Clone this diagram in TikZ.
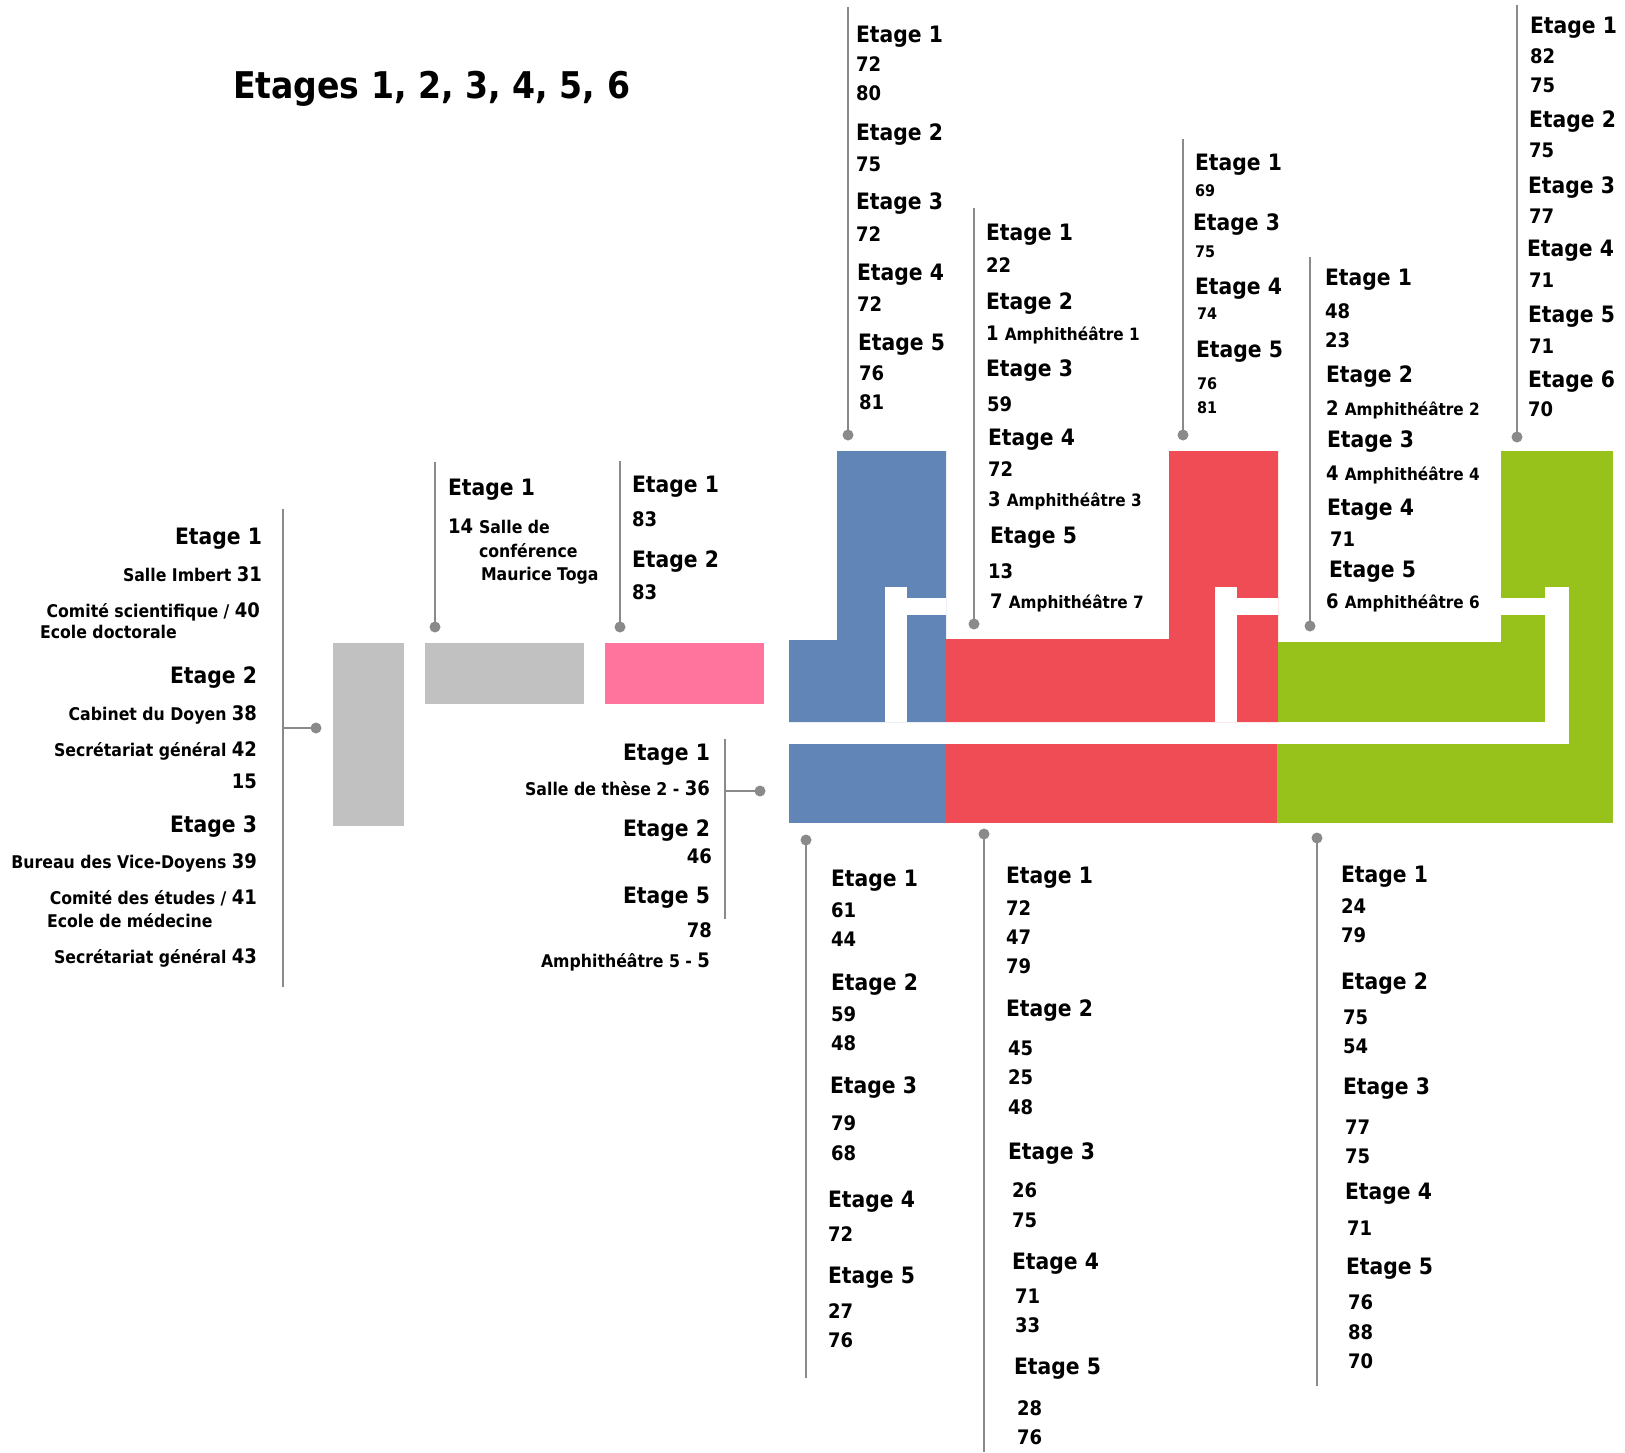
\documentclass[tikz,border=0pt]{standalone}
\usepackage{fontspec}
\setmainfont{DejaVu Sans}[FakeStretch=0.9]
\definecolor{cblue}{HTML}{6285B8}
\definecolor{cred}{HTML}{F04C56}
\definecolor{cgreen}{HTML}{97C11B}
\definecolor{cgray}{HTML}{C1C1C1}
\definecolor{cpink}{HTML}{FF749C}
\definecolor{lgray}{HTML}{8A8A8A}
\newcommand\nb[1]{{\fontsize{20}{24}\selectfont #1}}
\newcommand\amph[1]{{\fontsize{17}{20}\selectfont #1}}
\begin{document}
\begin{tikzpicture}[x=1pt,y=-1pt,
  t/.style={inner sep=0pt, outer sep=0pt, text=black},
  et/.style={t, font=\bfseries\fontsize{22.6}{26}\selectfont},
  nm/.style={t, font=\bfseries\fontsize{20}{24}\selectfont},
  sn/.style={t, font=\bfseries\fontsize{16}{19}\selectfont},
  rm/.style={t, font=\bfseries\fontsize{17.5}{21}\selectfont},
  L/.style={anchor=base west}, R/.style={anchor=base east},
  conn/.style={draw=lgray, line width=2.5pt},
  dot/.style={circle, fill=lgray, inner sep=0pt, minimum size=11pt}]
\useasboundingbox (0,0) rectangle (1625,1452);
% ---------------- shapes ----------------
\fill[cgray] (333,643) rectangle (404,826);
\fill[cgray] (425,643) rectangle (584,704);
\fill[cpink] (605,643) rectangle (764,704);
% blue
\fill[cblue] (789,640) -- (837,640) -- (837,451) -- (946,451) -- (946,722) -- (789,722) -- cycle;
\fill[cblue] (789,744) rectangle (946,823);
% red
\fill[cred] (946,639) -- (1169,639) -- (1169,451) -- (1278,451) -- (1278,722) -- (946,722) -- cycle;
\fill[cred] (946,744) rectangle (1277,823);
% green
\fill[cgreen] (1278,642) rectangle (1545,722);
\fill[cgreen] (1501,451) rectangle (1613,823);
\fill[cgreen] (1277,744) rectangle (1613,823);
% white pipes
\fill[white] (885,587) rectangle (907,722);
\fill[white] (907,598) rectangle (946,615);
\fill[white] (1215,587) rectangle (1237,722);
\fill[white] (1237,598) rectangle (1278,615);
\fill[white] (1545,587) rectangle (1569,744);
\fill[white] (1501,598) rectangle (1545,615);
\fill[white] (1501,722) rectangle (1569,744);
% ---------------- title ----------------
\node[t, L, font=\bfseries\fontsize{36.8}{42}\selectfont] (title) at (233,98) {Etages 1, 2, 3, 4, 5, 6};
% ---------------- group A (left) ----------------
\coordinate (A1) at (283,509); \coordinate (A2) at (283,987); \coordinate (Aj) at (283,728);
\node[dot] (Ad) at (316,728) {};
\draw[conn] (A1) -- (A2); \draw[conn] (Aj) -- (Ad.center);
\node[et,R] (a1) at (262,544) {Etage 1};
\node[rm,R] (a2) at (262,581) {Salle Imbert \nb{31}};
\node[rm,R] (a3) at (260,617) {Comité scientifique / \nb{40}};
\node[rm,L] (a4) at (40,638) {Ecole doctorale};
\node[et,R] (a5) at (257,683) {Etage 2};
\node[rm,R] (a6) at (257,720) {Cabinet du Doyen \nb{38}};
\node[rm,R] (a7) at (257,756) {Secrétariat général \nb{42}};
\node[nm,R] (a8) at (257,788) {15};
\node[et,R] (a9) at (257,832) {Etage 3};
\node[rm,R] (a10) at (257,868) {Bureau des Vice-Doyens \nb{39}};
\node[rm,R] (a11) at (257,904) {Comité des études / \nb{41}};
\node[rm,L] (a12) at (47,927) {Ecole de médecine};
\node[rm,R] (a13) at (257,963) {Secrétariat général \nb{43}};
% ---------------- group G (gray bar) ----------------
\coordinate (G1) at (435,462); \node[dot] (Gd) at (435,627) {};
\draw[conn] (G1) -- (Gd.center);
\node[et,L] (g1) at (448,495) {Etage 1};
\node[nm,L] (g2) at (448,533) {14};
\node[rm,L] (g3) at (479,533) {Salle de};
\node[rm,L] (g4) at (479,557) {conférence};
\node[rm,L] (g5) at (481,580) {Maurice Toga};
% ---------------- group H (pink) ----------------
\coordinate (H1) at (620,461); \node[dot] (Hd) at (620,627) {};
\draw[conn] (H1) -- (Hd.center);
\node[et,L] (h1) at (632,492) {Etage 1};
\node[nm,L] (h2) at (632,526) {83};
\node[et,L] (h3) at (632,567) {Etage 2};
\node[nm,L] (h4) at (632,599) {83};
% ---------------- group I ----------------
\coordinate (I1) at (725,739); \coordinate (I2) at (725,919); \coordinate (Ij) at (725,791);
\node[dot] (Id) at (760,791) {};
\draw[conn] (I1) -- (I2); \draw[conn] (Ij) -- (Id.center);
\node[et,R] (i1) at (710,760) {Etage 1};
\node[rm,R] (i2) at (710,795) {Salle de thèse 2 - \nb{36}};
\node[et,R] (i3) at (710,836) {Etage 2};
\node[nm,R] (i4) at (712,863) {46};
\node[et,R] (i5) at (710,903) {Etage 5};
\node[nm,R] (i6) at (712,937) {78};
\node[rm,R] (i7) at (710,967) {Amphithéâtre 5 - \nb{5}};
% ---------------- column B (blue top) ----------------
\coordinate (B0) at (848,7); \node[dot] (Bd) at (848,435) {};
\draw[conn] (B0) -- (Bd.center);
\node[et,L] (b1) at (856,42) {Etage 1};
\node[nm,L] (b2) at (856,71) {72};
\node[nm,L] (b3) at (856,100) {80};
\node[et,L] (b4) at (856,140) {Etage 2};
\node[nm,L] (b5) at (856,171) {75};
\node[et,L] (b6) at (856,209) {Etage 3};
\node[nm,L] (b7) at (856,241) {72};
\node[et,L] (b8) at (857,280) {Etage 4};
\node[nm,L] (b9) at (857,311) {72};
\node[et,L] (b10) at (858,350) {Etage 5};
\node[nm,L] (b11) at (859,380) {76};
\node[nm,L] (b12) at (859,409) {81};
% ---------------- column C (red middle) ----------------
\coordinate (C0) at (974,208); \node[dot] (Cd) at (974,624) {};
\draw[conn] (C0) -- (Cd.center);
\node[et,L] (c1) at (986,240) {Etage 1};
\node[nm,L] (c2) at (986,272) {22};
\node[et,L] (c3) at (986,309) {Etage 2};
\node[nm,L] (c4) at (986,340) {1 \amph{Amphithéâtre 1}};
\node[et,L] (c5) at (986,376) {Etage 3};
\node[nm,L] (c6) at (987,411) {59};
\node[et,L] (c7) at (988,445) {Etage 4};
\node[nm,L] (c8) at (988,476) {72};
\node[nm,L] (c9) at (988,506) {3 \amph{Amphithéâtre 3}};
\node[et,L] (c10) at (990,543) {Etage 5};
\node[nm,L] (c11) at (988,578) {13};
\node[nm,L] (c12) at (990,608) {7 \amph{Amphithéâtre 7}};
% ---------------- column D (red top) ----------------
\coordinate (D0) at (1183,139); \node[dot] (Dd) at (1183,435) {};
\draw[conn] (D0) -- (Dd.center);
\node[et,L] (d1) at (1195,170) {Etage 1};
\node[sn,L] (d2) at (1195,196) {69};
\node[et,L] (d3) at (1193,230) {Etage 3};
\node[sn,L] (d4) at (1195,257) {75};
\node[et,L] (d5) at (1195,294) {Etage 4};
\node[sn,L] (d6) at (1197,319) {74};
\node[et,L] (d7) at (1196,357) {Etage 5};
\node[sn,L] (d8) at (1197,389) {76};
\node[sn,L] (d9) at (1197,413) {81};
% ---------------- column E (green middle) ----------------
\coordinate (E0) at (1310,257); \node[dot] (Ed) at (1310,626) {};
\draw[conn] (E0) -- (Ed.center);
\node[et,L] (e1) at (1325,285) {Etage 1};
\node[nm,L] (e2) at (1325,318) {48};
\node[nm,L] (e3) at (1325,347) {23};
\node[et,L] (e4) at (1326,382) {Etage 2};
\node[nm,L] (e5) at (1326,415) {2 \amph{Amphithéâtre 2}};
\node[et,L] (e6) at (1327,447) {Etage 3};
\node[nm,L] (e7) at (1326,480) {4 \amph{Amphithéâtre 4}};
\node[et,L] (e8) at (1327,515) {Etage 4};
\node[nm,L] (e9) at (1330,546) {71};
\node[et,L] (e10) at (1329,577) {Etage 5};
\node[nm,L] (e11) at (1326,608) {6 \amph{Amphithéâtre 6}};
% ---------------- column F (green top) ----------------
\coordinate (F0) at (1517,5); \node[dot] (Fd) at (1517,437) {};
\draw[conn] (F0) -- (Fd.center);
\node[et,L] (f1) at (1530,33) {Etage 1};
\node[nm,L] (f2) at (1530,63) {82};
\node[nm,L] (f3) at (1530,92) {75};
\node[et,L] (f4) at (1529,127) {Etage 2};
\node[nm,L] (f5) at (1529,157) {75};
\node[et,L] (f6) at (1528,193) {Etage 3};
\node[nm,L] (f7) at (1529,223) {77};
\node[et,L] (f8) at (1527,256) {Etage 4};
\node[nm,L] (f9) at (1529,287) {71};
\node[et,L] (f10) at (1528,322) {Etage 5};
\node[nm,L] (f11) at (1529,353) {71};
\node[et,L] (f12) at (1528,387) {Etage 6};
\node[nm,L] (f13) at (1528,416) {70};
% ---------------- column J (blue bottom) ----------------
\node[dot] (Jd) at (806,840) {}; \coordinate (J1) at (806,1378);
\draw[conn] (Jd.center) -- (J1);
\node[et,L] (j1) at (831,886) {Etage 1};
\node[nm,L] (j2) at (831,917) {61};
\node[nm,L] (j3) at (831,946) {44};
\node[et,L] (j4) at (831,990) {Etage 2};
\node[nm,L] (j5) at (831,1021) {59};
\node[nm,L] (j6) at (831,1050) {48};
\node[et,L] (j7) at (830,1093) {Etage 3};
\node[nm,L] (j8) at (831,1130) {79};
\node[nm,L] (j9) at (831,1160) {68};
\node[et,L] (j10) at (828,1207) {Etage 4};
\node[nm,L] (j11) at (828,1241) {72};
\node[et,L] (j12) at (828,1283) {Etage 5};
\node[nm,L] (j13) at (828,1318) {27};
\node[nm,L] (j14) at (828,1347) {76};
% ---------------- column K (red bottom) ----------------
\node[dot] (Kd) at (984,834) {}; \coordinate (K1) at (984,1452);
\draw[conn] (Kd.center) -- (K1);
\node[et,L] (k1) at (1006,883) {Etage 1};
\node[nm,L] (k2) at (1006,915) {72};
\node[nm,L] (k3) at (1006,944) {47};
\node[nm,L] (k4) at (1006,973) {79};
\node[et,L] (k5) at (1006,1016) {Etage 2};
\node[nm,L] (k6) at (1008,1055) {45};
\node[nm,L] (k7) at (1008,1084) {25};
\node[nm,L] (k8) at (1008,1114) {48};
\node[et,L] (k9) at (1008,1159) {Etage 3};
\node[nm,L] (k10) at (1012,1197) {26};
\node[nm,L] (k11) at (1012,1227) {75};
\node[et,L] (k12) at (1012,1269) {Etage 4};
\node[nm,L] (k13) at (1015,1303) {71};
\node[nm,L] (k14) at (1015,1332) {33};
\node[et,L] (k15) at (1014,1374) {Etage 5};
\node[nm,L] (k16) at (1017,1415) {28};
\node[nm,L] (k17) at (1017,1444) {76};
% ---------------- column L (green bottom) ----------------
\node[dot] (Ld) at (1317,838) {}; \coordinate (L1) at (1317,1386);
\draw[conn] (Ld.center) -- (L1);
\node[et,L] (l1) at (1341,882) {Etage 1};
\node[nm,L] (l2) at (1341,913) {24};
\node[nm,L] (l3) at (1341,942) {79};
\node[et,L] (l4) at (1341,989) {Etage 2};
\node[nm,L] (l5) at (1343,1024) {75};
\node[nm,L] (l6) at (1343,1053) {54};
\node[et,L] (l7) at (1343,1094) {Etage 3};
\node[nm,L] (l8) at (1345,1134) {77};
\node[nm,L] (l9) at (1345,1163) {75};
\node[et,L] (l10) at (1345,1199) {Etage 4};
\node[nm,L] (l11) at (1347,1235) {71};
\node[et,L] (l12) at (1346,1274) {Etage 5};
\node[nm,L] (l13) at (1348,1309) {76};
\node[nm,L] (l14) at (1348,1339) {88};
\node[nm,L] (l15) at (1348,1368) {70};
\end{tikzpicture}
\end{document}
